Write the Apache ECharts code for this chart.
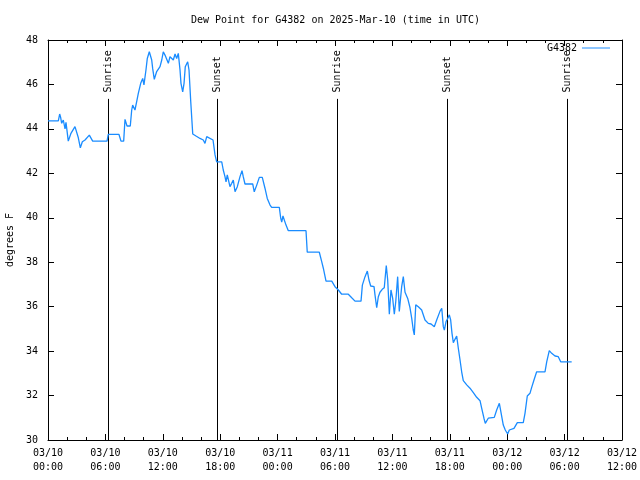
<!DOCTYPE html>
<html>
<head>
<meta charset="utf-8">
<script src="https://cdn.jsdelivr.net/npm/echarts@6/dist/echarts.min.js"></script>
<style>html,body{margin:0;padding:0;background:#fff;}#c{width:640px;height:480px;}</style>
</head>
<body>
<div id="c"></div>
<script>
// hours since 2025-03-10 00:00 UTC
const hours = [0,1.08,1.22,1.33,1.43,1.60,1.78,1.88,2.12,2.40,2.82,3.17,3.38,3.59,3.87,4.32,4.67,6.17,6.30,7.42,7.63,7.91,8.05,8.26,8.60,8.75,8.85,9.09,9.27,9.44,9.69,9.90,10.03,10.24,10.38,10.59,10.84,10.94,11.11,11.36,11.71,11.89,12.05,12.23,12.41,12.58,12.75,12.93,13.10,13.28,13.45,13.62,13.80,13.90,14.08,14.22,14.35,14.60,14.74,14.92,15.13,15.47,15.89,16.23,16.41,16.59,16.76,17.25,17.46,17.63,18.16,18.32,18.50,18.61,18.74,18.85,19.02,19.20,19.37,19.55,19.79,20.07,20.28,20.41,20.59,21.40,21.56,21.82,22.09,22.40,22.68,22.92,23.21,23.38,24.18,24.32,24.43,24.56,24.88,25.12,26.97,27.10,28.36,28.61,28.78,29.06,29.66,30.00,30.35,30.70,31.39,31.75,32.09,32.72,32.86,33.14,33.38,33.55,33.73,34.08,34.18,34.36,34.53,34.70,34.94,35.15,35.36,35.51,35.68,35.85,36.03,36.20,36.35,36.55,36.72,36.97,37.14,37.32,37.49,37.60,37.84,38.02,38.18,38.29,38.44,38.71,39.06,39.41,39.75,40.04,40.38,40.63,40.98,41.16,41.32,41.43,41.61,41.78,41.95,42.09,42.23,42.37,42.54,42.72,42.89,43.07,43.24,43.41,43.77,44.11,44.46,44.81,45.16,45.33,45.57,45.71,46.02,46.20,46.65,46.90,47.18,47.38,47.59,47.80,48.05,48.22,48.40,48.71,49.06,49.68,49.86,50.10,50.38,50.56,50.80,51.08,51.95,52.13,52.40,52.65,53.00,53.34,53.59,54.74];
const dewPoint = [44.36,44.36,44.67,44.5,44.25,44.4,44.0,44.3,43.45,43.8,44.1,43.6,43.15,43.42,43.5,43.72,43.45,43.45,43.75,43.75,43.45,43.45,44.43,44.13,44.13,44.85,45.07,44.85,45.23,45.6,46.05,46.27,45.98,46.65,47.17,47.47,47.1,46.72,46.23,46.58,46.8,47.1,47.47,47.32,47.13,46.95,47.25,47.32,47.1,47.37,47.17,47.4,46.65,46.05,45.67,46.05,46.8,47.02,46.65,45.23,43.77,43.68,43.57,43.5,43.35,43.65,43.57,43.5,42.83,42.52,42.52,42.15,41.85,41.62,41.93,42.0,41.4,41.55,41.7,41.17,41.4,41.85,42.12,41.85,41.52,41.52,41.17,41.47,41.82,41.82,41.33,40.87,40.57,40.47,40.47,40.0,39.8,40.08,39.67,39.42,39.42,38.45,38.45,38.03,37.73,37.15,37.15,36.9,36.75,36.56,36.56,36.4,36.25,36.25,36.97,37.35,37.6,37.2,36.93,36.9,36.53,35.95,36.45,36.65,36.78,36.85,37.85,37.2,35.66,36.75,36.37,35.66,36.22,37.35,35.78,36.9,37.35,36.65,36.65,36.37,35.95,35.47,34.95,34.73,36.08,36.0,35.85,35.4,35.25,35.22,35.1,35.4,35.8,35.93,35.1,34.95,35.33,35.47,35.63,35.4,34.8,34.38,34.53,34.68,34.13,33.6,33.07,32.67,32.48,32.33,32.13,31.92,31.77,31.43,30.98,30.75,30.98,31.02,31.02,31.35,31.65,31.65,30.67,30.45,30.27,30.45,30.52,30.52,30.78,30.78,31.2,31.98,32.1,32.37,32.7,33.07,33.07,33.52,34.02,33.9,33.78,33.75,33.52,33.52];
const eventHours = [6.27, 17.67, 30.21, 41.71, 54.25];
const eventNames = ['Sunrise', 'Sunset', 'Sunrise', 'Sunset', 'Sunrise'];
const seriesName = 'G4382';
const titleText = 'Dew Point for G4382 on 2025-Mar-10 (time in UTC)';
const yName = 'degrees F';

const FONT = '"DejaVu Sans Mono", monospace';
function fmtX(v) {
  const day = 10 + Math.floor(v / 24);
  const h = Math.round(v % 24);
  return '03/' + String(day).padStart(2, '0') + '\n' + String(h).padStart(2, '0') + ':00';
}
const lineData = hours.map((h, i) => [h, dewPoint[i]]);
const evData = eventHours.map((h, i) => [h, i]);

const chart = echarts.init(document.getElementById('c'), null, {renderer: 'canvas'});
const axisCommonX = {
  type: 'value', min: 0, max: 60, interval: 6,
  axisLine: {show: true, lineStyle: {color: '#000', width: 1}},
  axisTick: {show: true, inside: true, length: 6, lineStyle: {color: '#000'}},
  minorTick: {show: true, splitNumber: 3, length: 3, lineStyle: {color: '#000'}},
  splitLine: {show: false}, minorSplitLine: {show: false}
};
const axisCommonY = {
  type: 'value', min: 30, max: 48, interval: 2,
  axisLine: {show: true, onZero: false, lineStyle: {color: '#000', width: 1}},
  axisTick: {show: true, inside: true, length: 6, lineStyle: {color: '#000'}},
  splitLine: {show: false}
};
chart.setOption({
  animation: false,
  backgroundColor: '#fff',
  title: {
    text: titleText, left: 186, top: 10,
    textStyle: {fontFamily: FONT, fontSize: 10, fontWeight: 'normal', color: '#000'}
  },
  legend: {
    data: [{name: seriesName, icon: 'rect'}], right: 30, top: 43, align: 'right', padding: 0,
    itemWidth: 28, itemHeight: 1, itemGap: 6,
    textStyle: {fontFamily: FONT, fontSize: 10, color: '#000'}
  },
  grid: {left: 48, right: 18, top: 40, bottom: 40, show: false, containLabel: false, outerBoundsMode: 'none'},
  xAxis: [
    Object.assign({}, axisCommonX, {
      position: 'bottom',
      axisLabel: {show: true, formatter: fmtX, fontFamily: FONT, fontSize: 10, color: '#000', lineHeight: 14, margin: 6, hideOverlap: false}
    }),
    Object.assign({}, axisCommonX, {position: 'top', axisLabel: {show: false}})
  ],
  yAxis: [
    Object.assign({}, axisCommonY, {
      position: 'left',
      name: yName, nameLocation: 'middle', nameRotate: 90, nameGap: 33,
      nameTextStyle: {fontFamily: FONT, fontSize: 10, color: '#000'},
      axisLabel: {show: true, fontFamily: FONT, fontSize: 10, color: '#000', margin: 10}
    }),
    Object.assign({}, axisCommonY, {position: 'right', axisLabel: {show: false}})
  ],
  series: [
    {
      name: seriesName, type: 'line', data: lineData,
      symbol: 'none', showSymbol: false,
      lineStyle: {color: '#1a8cff', width: 1.3},
      itemStyle: {color: '#1a8cff'},
      z: 3
    },
    {
      name: 'events', type: 'custom', data: evData, clip: false, silent: true, z: 2,
      renderItem: function (params, api) {
        const t = api.value(0);
        const nm = eventNames[api.value(1)];
        const b = api.coord([t, 30]);
        const lt = api.coord([t, 45.35]);
        const lp = api.coord([t, 45.64]);
        const px = Math.round(b[0]) + 0.5;
        return {
          type: 'group',
          children: [
            {type: 'line', shape: {x1: px, y1: b[1], x2: px, y2: lt[1]}, style: {stroke: '#000', lineWidth: 1}},
            {type: 'text', x: px, y: lp[1], rotation: Math.PI / 2,
              style: {text: nm, textAlign: 'left', textVerticalAlign: 'middle', font: '10px ' + FONT, fill: '#000'}}
          ]
        };
      }
    }
  ]
});
</script>
</body>
</html>
